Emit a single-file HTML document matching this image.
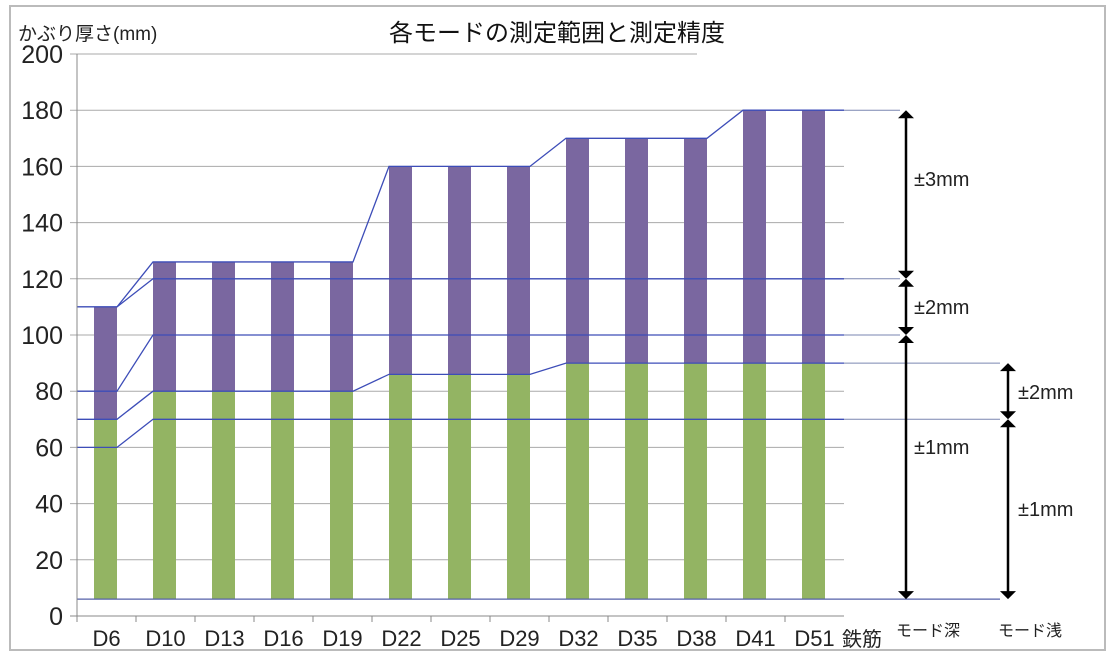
<!DOCTYPE html>
<html><head><meta charset="utf-8"><style>
body{margin:0;background:#fff;font-family:"Liberation Sans","Noto Sans CJK JP",sans-serif}
svg text{font-family:"Liberation Sans","Noto Sans CJK JP",sans-serif}
</style></head><body>
<svg id="c" width="1114" height="658" viewBox="0 0 1114 658" xmlns="http://www.w3.org/2000/svg">
<rect x="10" y="6" width="1095" height="644" fill="#fff" stroke="#bbb" stroke-width="2"/>
<text x="557" y="41" font-size="24" text-anchor="middle" fill="#111">各モードの測定範囲と測定精度</text>
<text x="18" y="40" font-size="19" fill="#222">かぶり厚さ(mm)</text>
<g id="grid"></g><g id="bars"></g><g id="lines"></g><g id="axes"></g><g id="ann"></g>
</svg>
<script>
const categories=["D6","D10","D13","D16","D19","D22","D25","D29","D32","D35","D38","D41","D51"];
const baseVals=[6,6,6,6,6,6,6,6,6,6,6,6,6];
const shallowTop=[70,80,80,80,80,86,86,86,90,90,90,90,90];
const deepTop=[110,126,126,126,126,160,160,160,170,170,170,180,180];
const yTicks=[0,20,40,60,80,100,120,140,160,180,200];
const NS="http://www.w3.org/2000/svg";
const X0=77,STEP=59,Y0=616,PX=2.81;
const y=v=>Y0-v*PX;
const xl=i=>X0+STEP*i;
function mk(tag,attrs,parent){const e=document.createElementNS(NS,tag);for(const k in attrs)e.setAttribute(k,attrs[k]);document.getElementById(parent).appendChild(e);return e;}
const R=X0+STEP*categories.length;
yTicks.forEach(t=>{
  const l=mk('line',{x1:70,x2:t==200?X0+620:R,y1:y(t),y2:y(t),stroke:'#aaa','stroke-width':1},'grid');
  
  
  const tx=mk('text',{x:63,y:y(t)+9,'font-size':25,'text-anchor':'end',fill:'#222'},'grid');
  tx.textContent=t;
  
  
});
categories.forEach((c,i)=>{
  const bx=xl(i)+17,bw=23;
  const g=mk('rect',{x:bx,y:y(shallowTop[i]),width:bw,height:y(baseVals[i])-y(shallowTop[i]),fill:'#93b463'},'bars');
  
  
  const p=mk('rect',{x:bx,y:y(deepTop[i]),width:bw,height:y(shallowTop[i])-y(deepTop[i]),fill:'#7a67a0'},'bars');
  
  
  const tl=mk('text',{x:xl(i)+STEP/2,y:646,'font-size':22,'text-anchor':'middle',fill:'#222'},'axes');
  tl.textContent=c;
  
  
  const tk=mk('line',{x1:xl(i),x2:xl(i),y1:Y0,y2:Y0+6,stroke:'#888'},'axes');
  
  
});
function stepLine(vals,name,ext,color){
  let d='';
  vals.forEach((v,i)=>{const a=xl(i)+(i==0?0:17),b=xl(i)+40;d+=(i==0?'M':'L')+a+','+y(v)+'L'+(i==vals.length-1?R:b)+','+y(v);});
  const p=mk('path',{d:d,fill:'none',stroke:color,'stroke-width':1.3},'lines');
  
  
  if(ext){const l=mk('line',{x1:R,x2:ext,y1:y(vals[vals.length-1]),y2:y(vals[vals.length-1]),stroke:'#7a86b0','stroke-width':1},'lines');
  
  }
}
stepLine(shallowTop,'shallow-top-line',1000,'#3d4db8');
stepLine(deepTop,'deep-top-line',900,'#3d4db8');
const lo60=categories.map((c,i)=>i==0?60:70);
const lo80=categories.map((c,i)=>i==0?80:100);
const lo110=categories.map((c,i)=>i==0?110:120);
stepLine(lo60,'range-line-70',1000,'#3d4db8');
stepLine(lo80,'range-line-100',900,'#3d4db8');
stepLine(lo110,'range-line-120',900,'#3d4db8');
const base=mk('line',{x1:X0,x2:1000,y1:y(6),y2:y(6),stroke:'#5560a8','stroke-width':1.3},'lines');


const ax=mk('line',{x1:X0,x2:X0,y1:y(200),y2:Y0+6,stroke:'#888'},'axes');

const ax2=mk('line',{x1:70,x2:R,y1:Y0,y2:Y0,stroke:'#888'},'axes');

const t1=mk('text',{x:842,y:646,'font-size':20,fill:'#222'},'axes');t1.textContent='鉄筋';

function arrow(x,v1,v2,name){
  const l=mk('line',{x1:x,x2:x,y1:y(v1)+6,y2:y(v2)-6,stroke:'#000','stroke-width':2.5},'ann');
  
  [[v1,-1],[v2,1]].forEach(([v,d])=>{const yy=y(v);
    const h=mk('polygon',{points:`${x-8},${yy-8*d} ${x+8},${yy-8*d} ${x},${yy}`,fill:'#000'},'ann');
    });
}
arrow(906,180,120,'arrow-deep-3mm');arrow(906,120,100,'arrow-deep-2mm');arrow(906,100,6,'arrow-deep-1mm');
arrow(1008,90,70,'arrow-shallow-2mm');arrow(1008,70,6,'arrow-shallow-1mm');
[[914,186,'±3mm'],[914,314,'±2mm'],[914,454,'±1mm'],[1018,399,'±2mm'],[1018,516,'±1mm'],[896,636,'モード深'],[998,636,'モード浅']].forEach(([x,yy,s])=>{
  const t=mk('text',{x:x,y:yy,'font-size':s[0]=='モ'?16:20,fill:'#222'},'ann');t.textContent=s;
  });
</script>
</body></html>
